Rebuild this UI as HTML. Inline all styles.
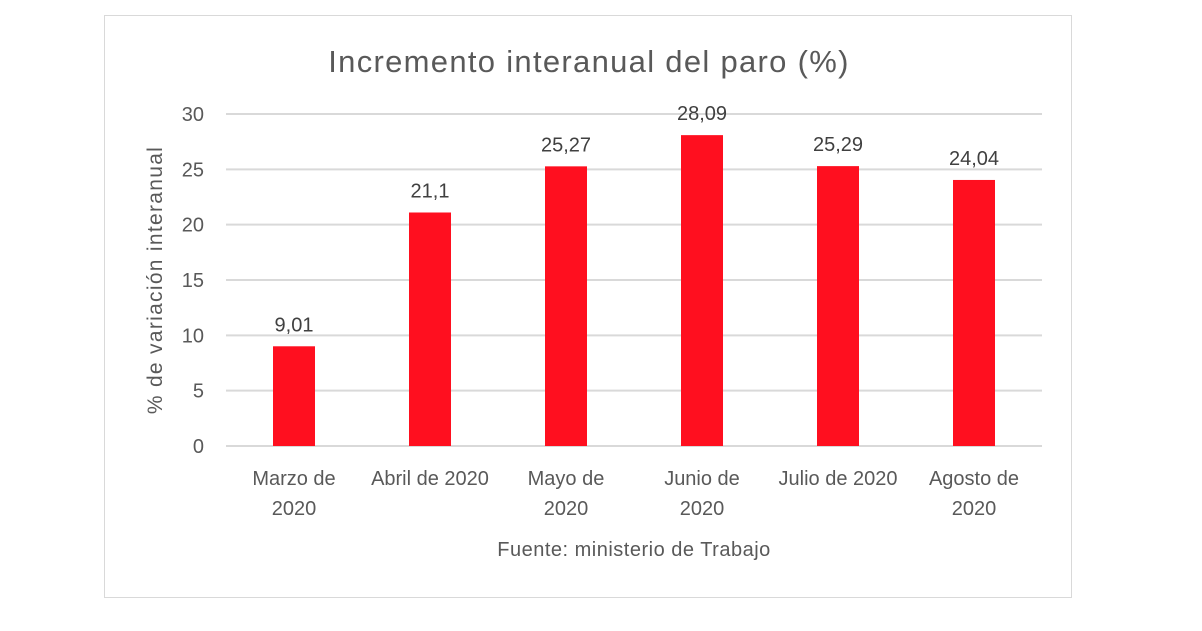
<!DOCTYPE html>
<html><head><meta charset="utf-8"><style>
body{margin:0;background:#fff;width:1202px;height:626px;overflow:hidden}
svg{font-family:"Liberation Sans",sans-serif}
</style></head><body>
<svg id="chart" width="1202" height="626">
<rect x="104.5" y="15.5" width="967" height="582" fill="#fff" stroke="#d9d9d9"/>
<text x="589" y="72" text-anchor="middle" font-size="31" letter-spacing="1.3" fill="#595959">Incremento interanual del paro  (%)</text>
<text transform="translate(162,280) rotate(-90)" text-anchor="middle" font-size="21" letter-spacing="1.3" fill="#595959">% de variación interanual</text>
<text x="634" y="556" text-anchor="middle" font-size="20" letter-spacing="0.5" fill="#595959">Fuente: ministerio de Trabajo</text>
<g id="grid"></g><g id="bars"></g><g id="labels"></g>
</svg>
<script>
const categories=[["Marzo de","2020"],["Abril de 2020"],["Mayo de","2020"],["Junio de","2020"],["Julio de 2020"],["Agosto de","2020"]];
const values=[9.01,21.1,25.27,28.09,25.29,24.04];
const valueLabels=["9,01","21,1","25,27","28,09","25,29","24,04"];
const yTicks=[0,5,10,15,20,25,30];
const NS="http://www.w3.org/2000/svg";
const x0=226,x1=1042,yb=446,yt=114,yMax=30;
const band=(x1-x0)/categories.length;
const y=v=>yb-(v/yMax)*(yb-yt);
const xc=i=>x0+band*(i+0.5);
function mk(t,a,p){const e=document.createElementNS(NS,t);for(const k in a)e.setAttribute(k,a[k]);p.appendChild(e);return e;}
const g=document.getElementById('grid'),b=document.getElementById('bars'),l=document.getElementById('labels');
yTicks.forEach(t=>{
 const ln=mk('line',{x1:x0,x2:x1,y1:y(t),y2:y(t),stroke:'#d9d9d9','stroke-width':2},g);
 
 
 const tx=mk('text',{x:204,y:y(t)+7,'text-anchor':'end','font-size':20,fill:'#595959'},g);
 tx.textContent=t;
 
 
});
values.forEach((v,i)=>{
 const r=mk('rect',{x:xc(i)-21,y:y(v),width:42,height:yb-y(v),fill:'#ff0f1f'},b);
 
 
 const t=mk('text',{x:xc(i),y:y(v)-15,'text-anchor':'middle','font-size':20,fill:'#404040'},l);
 t.textContent=valueLabels[i];
 
 
 categories[i].forEach((s,j)=>{
  const c=mk('text',{x:xc(i),y:485+j*30,'text-anchor':'middle','font-size':20,fill:'#595959'},l);
  c.textContent=s;
  
  
 });
});
</script>
</body></html>
